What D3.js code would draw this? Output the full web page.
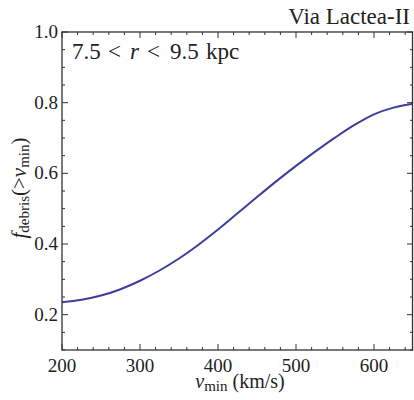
<!DOCTYPE html>
<html>
<head>
<meta charset="utf-8">
<script src="https://cdn.jsdelivr.net/npm/d3@7"></script>
<style>
  body { margin: 0; background: #fff; }
  svg { font-family: "Liberation Serif", "DejaVu Serif", serif; }
  text { fill: #222; }
</style>
</head>
<body>
<div id="chart"></div>
<script>
// data
var vmin = [200, 225, 250, 275, 300, 325, 350, 375, 400, 425, 450, 475, 500, 525, 550, 575, 600, 625, 650]
var fdebris = [0.235, 0.242, 0.254, 0.272, 0.296, 0.325, 0.359, 0.398, 0.441, 0.487, 0.533, 0.578, 0.621, 0.662, 0.701, 0.737, 0.767, 0.786, 0.797]
var xTicks = [200, 300, 400, 500, 600]
var yTicks = [0.2, 0.4, 0.6, 0.8, 1.0]

var W = 414, H = 400
var margin = {top: 32, right: 1, bottom: 50, left: 62}

var svg = d3.select("#chart").append("svg")
    .attr("width", W).attr("height", H)

var x = d3.scaleLinear().domain([200, 650]).range([margin.left, W - margin.right])
var y = d3.scaleLinear().domain([0.1, 1.0]).range([H - margin.bottom, margin.top])

var frameColor = "#333"
var x0 = x.range()[0], x1 = x.range()[1], y0 = y.range()[0], y1 = y.range()[1]

// clip for the curve
svg.append("clipPath").attr("id", "clip").append("rect")
    .attr("x", x0).attr("y", y1).attr("width", x1 - x0).attr("height", y0 - y1)

var line = d3.line().curve(d3.curveCatmullRom)
    .x((d, i) => x(vmin[i]))
    .y(d => y(d))

svg.append("path")
    .attr("clip-path", "url(#clip)")
    .attr("fill", "none")
    .attr("stroke", "#3d3d9e")
    .attr("stroke-width", 2)
    .attr("d", line(fdebris))

// ticks on all four sides, pointing in
var xMinor = d3.range(200, 651, 20).filter(v => xTicks.indexOf(v) < 0)
var yMinor = d3.range(0.1, 1.0001, 0.05).map(v => +v.toFixed(2)).filter(v => yTicks.indexOf(v) < 0)

var g = svg.append("g").attr("stroke", frameColor).attr("stroke-width", 1)
xTicks.concat(xMinor).forEach(function(v) {
    var len = xTicks.indexOf(v) >= 0 ? 6 : 3
    g.append("line").attr("x1", x(v)).attr("x2", x(v)).attr("y1", y0).attr("y2", y0 - len)
    g.append("line").attr("x1", x(v)).attr("x2", x(v)).attr("y1", y1).attr("y2", y1 + len)
})
yTicks.concat(yMinor).forEach(function(v) {
    var len = yTicks.indexOf(v) >= 0 ? 6 : 3
    g.append("line").attr("y1", y(v)).attr("y2", y(v)).attr("x1", x0).attr("x2", x0 + len)
    g.append("line").attr("y1", y(v)).attr("y2", y(v)).attr("x1", x1).attr("x2", x1 - len)
})

svg.append("rect")
    .attr("x", x0).attr("y", y1).attr("width", x1 - x0 - 0.5).attr("height", y0 - y1)
    .attr("fill", "none").attr("stroke", frameColor).attr("stroke-width", 1.3)

// tick labels
svg.append("g").selectAll("text").data(xTicks).join("text")
    .attr("x", d => x(d)).attr("y", y0 + 22)
    .attr("text-anchor", "middle").attr("font-size", 19)
    .text(d => d)

svg.append("g").selectAll("text").data(yTicks).join("text")
    .attr("x", x0 - 4).attr("y", d => y(d) + 6)
    .attr("text-anchor", "end").attr("font-size", 19)
    .text(d => d.toFixed(1))

// axis titles
var xl = svg.append("text").attr("x", 240).attr("y", 388).attr("text-anchor", "middle").attr("font-size", 20)
xl.append("tspan").attr("font-style", "italic").text("v")
xl.append("tspan").attr("font-size", 15).attr("dy", 3).text("min")
xl.append("tspan").attr("dy", -3).text(" (km/s)")

var yl = svg.append("text").attr("transform", "translate(26,188) rotate(-90)")
    .attr("text-anchor", "middle").attr("font-size", 21)
yl.append("tspan").attr("font-style", "italic").text("f")
yl.append("tspan").attr("font-size", 15).attr("dy", 3).text("debris")
yl.append("tspan").attr("dy", -3).text("(>")
yl.append("tspan").attr("font-style", "italic").text("v")
yl.append("tspan").attr("font-size", 15).attr("dy", 3).text("min")
yl.append("tspan").attr("dy", -3).text(")")

// labels
svg.append("text").attr("x", 410).attr("y", 24).attr("text-anchor", "end")
    .attr("font-size", 23).text("Via Lactea-II")

// math-style spacing for the radius range
var rParts = [["7.5", 72, false], ["<", 108, false], ["r", 130, true], ["<", 147, false], ["9.5", 170, false], ["kpc", 206, false]]
var rl = svg.append("text").attr("y", 59).attr("font-size", 23)
rParts.forEach(function(p) {
    rl.append("tspan").attr("x", p[1]).attr("font-style", p[2] ? "italic" : null).text(p[0])
})
</script>
</body>
</html>
